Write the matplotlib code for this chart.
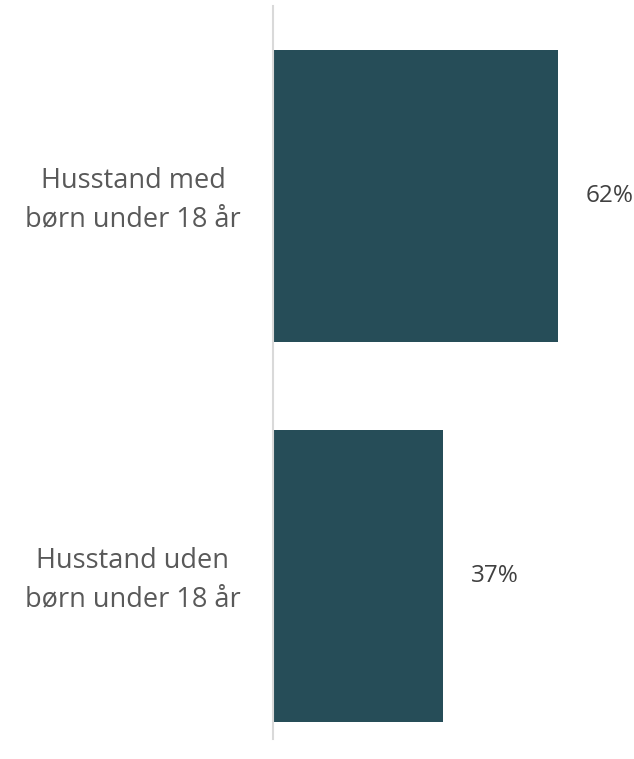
import matplotlib.pyplot as plt
import matplotlib.transforms as mtransforms

categories = ["Husstand med\nbørn under 18 år", "Husstand uden\nbørn under 18 år"]
values = [62, 37]
value_labels = ["62%", "37%"]

bar_color = "#264D58"
label_color = "#595959"

fig = plt.figure(figsize=(6.34, 7.59), dpi=100)
ax = fig.add_axes([273 / 634, 20 / 759, 361 / 634, 733 / 759])

ypos = list(range(len(categories)))
ax.barh(ypos, values, height=0.768, color=bar_color)

ax.set_xlim(0, 361 / 4.6)
ax.set_ylim(1 + 163 / 380, -190 / 380)

for y, v, lab in zip(ypos, values, value_labels):
    ax.annotate(lab, xy=(v, y), xytext=(20, 0), textcoords="offset points",
                ha="left", va="center", fontsize=17.5, color="#404040",
                family="Open Sans")

trans = mtransforms.blended_transform_factory(fig.transFigure, ax.transData)
for y, cat in zip(ypos, categories):
    ax.text(133 / 634, y + 0.01, cat, transform=trans, ha="center", va="center",
            multialignment="center", fontsize=19.5, color=label_color,
            family="Open Sans", linespacing=1.5)

for s in ["top", "right", "bottom"]:
    ax.spines[s].set_visible(False)
ax.spines["left"].set_color("#D9D9D9")
ax.spines["left"].set_linewidth(1.5)
ax.set_xticks([])
ax.set_yticks([])

fig.savefig("out.png", dpi=100)
